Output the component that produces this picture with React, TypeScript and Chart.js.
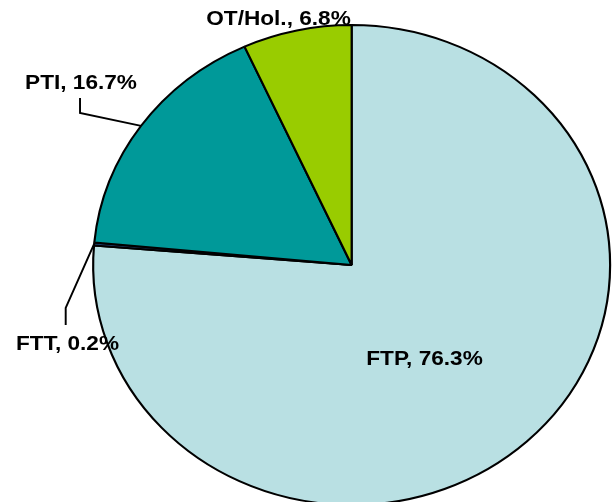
import React, { useEffect, useRef } from "react";
import { Chart, registerables } from "chart.js";

Chart.register(...registerables);

const categories = ["FTP", "FTT", "PTI", "OT/Hol."];
const shares = [76.3, 0.2, 16.7, 6.8];
const sliceColors = ["#B9E0E3", "#1F3F6F", "#009999", "#99CC00"];

const SX = 1.077; // horizontal stretch of the reference (elliptical pie)

// label anchors in chart (unstretched) coordinates: [centerX, baselineY]
const labelPos: Record<string, [number, number]> = {
  FTP: [394.2, 365],
  FTT: [62.7, 350],
  PTI: [75.2, 89],
  "OT/Hol.": [258.6, 25],
};
// leader line elbows for outside labels, then to slice edge
const leaders: Record<string, [number, number][]> = {
  PTI: [
    [74.3, 98],
    [74.3, 113],
  ],
  FTT: [
    [61, 325],
    [61, 308],
  ],
};

const ellipsePlugin = {
  id: "ellipseLabels",
  beforeDraw(chart: any) {
    const ctx = chart.ctx;
    ctx.save();
    ctx.scale(SX, 1);
  },
  afterDraw(chart: any) {
    const ctx = chart.ctx;
    const meta = chart.getDatasetMeta(0);
    meta.data.forEach((arc: any, i: number) => {
      const name = categories[i];
      const lead = leaders[name];
      if (lead) {
        const mid = (arc.startAngle + arc.endAngle) / 2;
        const ex = arc.x + Math.cos(mid) * arc.outerRadius;
        const ey = arc.y + Math.sin(mid) * arc.outerRadius;
        ctx.save();
        ctx.strokeStyle = "#000";
        ctx.lineWidth = 1.8;
        ctx.beginPath();
        ctx.moveTo(lead[0][0], lead[0][1]);
        for (let k = 1; k < lead.length; k++) ctx.lineTo(lead[k][0], lead[k][1]);
        ctx.lineTo(ex, ey);
        ctx.stroke();
        ctx.restore();
      }
      const p = labelPos[name];
      ctx.save();
      ctx.font = "bold 21px 'Liberation Sans', Arial, sans-serif";
      ctx.fillStyle = "#000";
      ctx.textAlign = "center";
      ctx.textBaseline = "alphabetic";
      ctx.fillText(`${name}, ${shares[i]}%`, p[0], p[1]);
      ctx.restore();
    });
    ctx.restore();
  },
};

export default function App() {
  const ref = useRef<HTMLCanvasElement | null>(null);
  useEffect(() => {
    if (!ref.current) return;
    const chart = new Chart(ref.current, {
      type: "pie",
      data: {
        labels: categories,
        datasets: [
          {
            data: shares,
            backgroundColor: sliceColors,
            borderColor: "#000",
            borderWidth: 2,
          },
        ],
      },
      options: {
        responsive: false,
        animation: false,
        events: [],
        radius: 240,
        layout: { padding: { left: 39, right: 0, top: 0, bottom: 0 } },
        plugins: { legend: { display: false }, tooltip: { enabled: false } },
      } as any,
      plugins: [ellipsePlugin],
    });
    return () => chart.destroy();
  }, []);
  return (
    <div
      style={{
        position: "fixed",
        left: 0,
        top: 0,
        width: 614,
        height: 502,
        overflow: "hidden",
        background: "#fff",
      }}
    >
      <canvas ref={ref} width={614} height={530} style={{ display: "block" }} />
    </div>
  );
}
